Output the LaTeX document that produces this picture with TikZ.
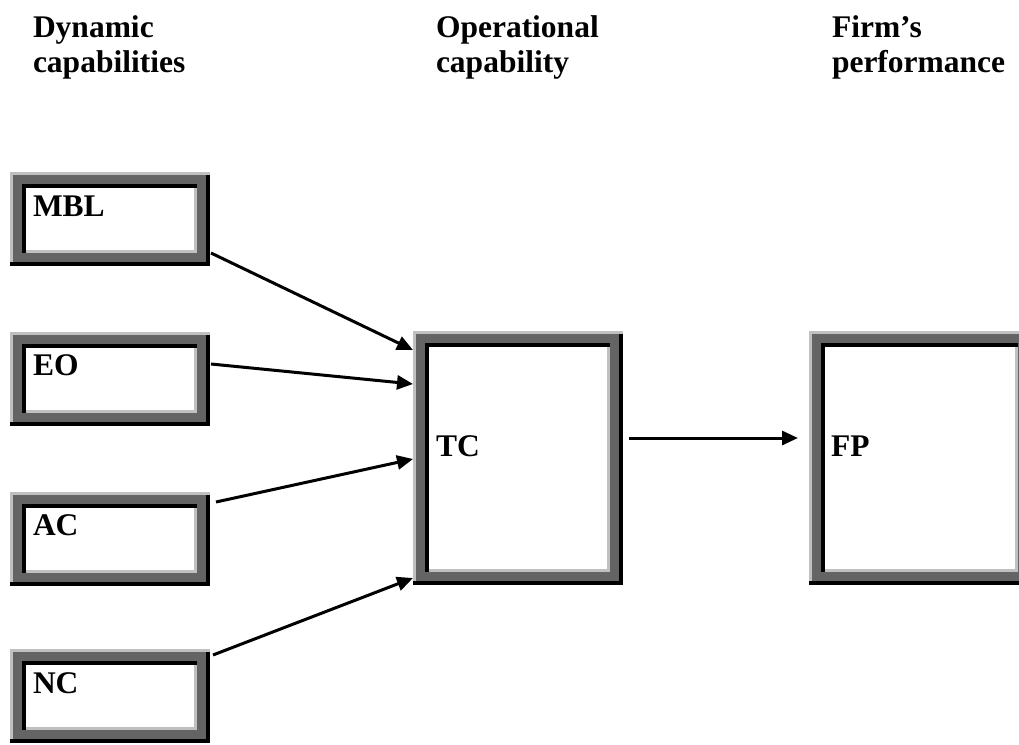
\documentclass[tikz,border=0pt]{standalone}
\usepackage{fontspec}
\setmainfont{Liberation Serif}
\usetikzlibrary{arrows.meta,calc}
\definecolor{bevdark}{RGB}{100,100,100}
\definecolor{bevlight}{RGB}{192,192,192}
\newcommand{\bevframe}[3]{%
  \begin{scope}[shift={(#1.north west)}]
    \fill[bevdark] (0,0) rectangle (#2,#3);
    \fill[bevlight] (0,0) rectangle (#2,3);
    \fill[bevlight] (0,0) rectangle (3,#3-4);
    \fill[black] (0,#3-4) rectangle (#2,#3);
    \fill[black] (#2-4,3) rectangle (#2,#3);
    \fill[black] (12,12) rectangle (#2-13,16);
    \fill[black] (12,12) rectangle (16,#3-13);
    \fill[bevlight] (#2-16,16) rectangle (#2-13,#3-13);
    \fill[bevlight] (16,#3-16) rectangle (#2-13,#3-13);
    \fill[white] (16,16) rectangle (#2-16,#3-16);
  \end{scope}}
\tikzset{
  bevbox/.style 2 args={anchor=north west, inner sep=0pt, outer sep=0pt,
    minimum width=#1pt, minimum height=#2pt},
  txt/.style={font=\fontsize{31.5}{35.5}\selectfont\bfseries, inner sep=0pt, outer sep=0pt, anchor=base west},
  arr/.style={line width=3pt, -{Triangle[length=16pt,width=14pt]}}
}
\begin{document}
\begin{tikzpicture}[x=1pt,y=-1pt]
\useasboundingbox (0,0) rectangle (1019,744);
\clip (0,0) rectangle (1019,744);
\fill[white] (0,0) rectangle (1019,744);
% headings
\node[txt] (h1) at (33,37.3) {\vtop{\hbox{Dynamic}\hbox{capabilities}}};
\node[txt] (h2) at (436,37.3) {\vtop{\hbox{Operational}\hbox{capability}}};
\node[txt] (h3) at (832,37.3) {\vtop{\hbox{Firm’s}\hbox{performance}}};
% boxes
\node[bevbox={200}{94}] (mbl) at (10,172) {};
\node[bevbox={200}{94}] (eo) at (10,332) {};
\node[bevbox={200}{94}] (ac) at (10,492) {};
\node[bevbox={200}{94}] (nc) at (10,649) {};
\node[bevbox={210}{254}] (tc) at (413,331) {};
\node[bevbox={222}{254}] (fp) at (809,331) {};
\bevframe{mbl}{200}{94}
\bevframe{eo}{200}{94}
\bevframe{ac}{200}{94}
\bevframe{nc}{200}{94}
\bevframe{tc}{210}{254}
\bevframe{fp}{222}{254}
% labels
\node[txt] (mblt) at (33,216.7) {MBL};
\node[txt] (eot) at (33,375) {EO};
\node[txt] (act) at (33,535) {AC};
\node[txt] (nct) at (33,693) {NC};
\node[txt] (tct) at (436,456) {TC};
\node[txt] (fpt) at (831,456) {FP};
% arrows
\draw[arr] ([xshift=1pt,yshift=13pt]mbl.south east) -- ([yshift=-19pt]tc.north west);
\draw[arr] ([xshift=1pt,yshift=-32pt]eo.north east) -- ([yshift=-53pt]tc.north west);
\draw[arr] ([xshift=6pt,yshift=-10pt]ac.north east) -- ([yshift=-128pt]tc.north west);
\draw[arr] ([xshift=3pt,yshift=-6pt]nc.north east) -- ([yshift=-247pt]tc.north west);
\draw[arr] ([xshift=6pt,yshift=20pt]tc.east) -- ([xshift=-11pt,yshift=20pt]fp.west);
\end{tikzpicture}
\end{document}
